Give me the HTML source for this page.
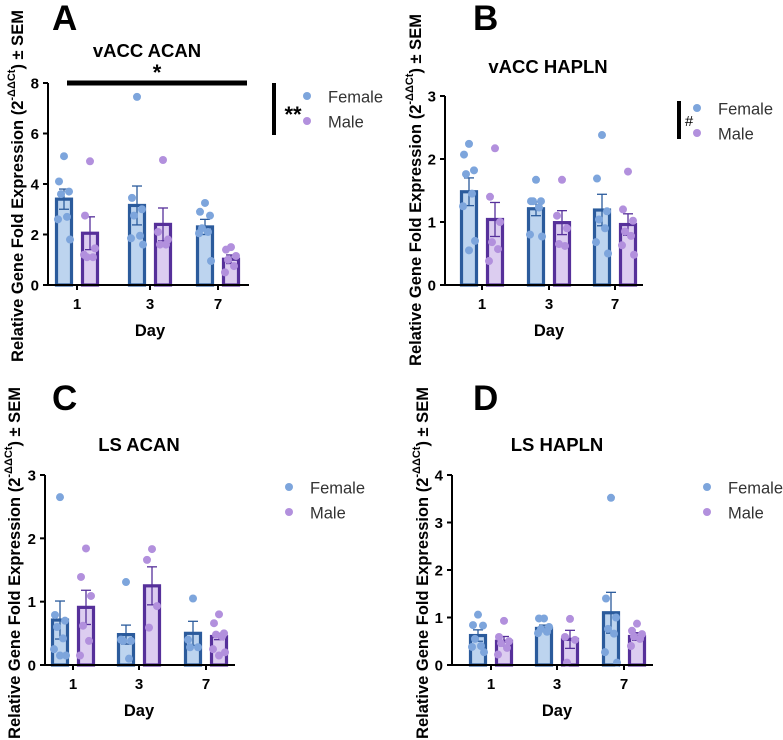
<!DOCTYPE html>
<html><head><meta charset="utf-8"><style>
body{margin:0;background:#fff;}
svg{display:block;font-family:"Liberation Sans",Arial,sans-serif;}
</style></head><body>
<svg id="fig" width="783" height="740" viewBox="0 0 783 740"></svg>
<script>
const days = ["1","3","7"];
// Panel A values
const aFemMean=[3.4,3.15,2.3], aFemSem=[0.4,0.77,0.3];
const aMalMean=[2.05,2.4,1.02], aMalSem=[0.65,0.65,0.17];
const aFemPts=[[5.1,4.1,3.7,3.6,2.7,2.6,1.8],[7.45,3.45,3.0,2.75,1.95,1.85,1.6],[3.25,2.9,2.75,2.25,2.1,2.05,0.95]];
const aMalPts=[[4.9,2.75,1.45,1.1,1.1,1.2],[4.95,2.1,1.8,1.6,1.6],[1.5,1.4,1.15,1.0,0.75,0.5]];
const aTicks=[0,2,4,6,8];
// Panel B values
const bFemMean=[1.48,1.21,1.19], bFemSem=[0.22,0.11,0.25];
const bMalMean=[1.04,0.99,0.96], bMalSem=[0.27,0.19,0.17];
const bFemPts=[[2.24,2.07,1.82,1.76,1.45,1.25,0.7,0.55],[1.67,1.33,1.33,1.33,1.23,0.8,0.77],[2.38,1.69,1.17,1.04,0.9,0.68,0.5]];
const bMalPts=[[2.17,1.4,1.0,0.68,0.57,0.38],[1.67,1.1,0.9,0.65,0.62],[1.8,1.2,1.02,0.85,0.78,0.63,0.48]];
const bTicks=[0,1,2,3];
// Panel C values
const cFemMean=[0.71,0.48,0.5], cFemSem=[0.3,0.15,0.19];
const cMalMean=[0.91,1.25,0.45], cMalSem=[0.27,0.3,0.05];
const cFemPts=[[2.65,0.79,0.7,0.6,0.42,0.25,0.15,0.15],[1.31,0.4,0.38,0.38,0.1],[1.05,0.4,0.28,0.28]];
const cMalPts=[[1.84,1.39,1.09,0.62,0.38,0.15],[1.83,1.66,0.93,0.59],[0.8,0.66,0.5,0.48,0.45,0.25,0.2,0.15]];
const cTicks=[0,1,2,3];
// Panel D values
const dFemMean=[0.62,0.77,1.1], dFemSem=[0.12,0.07,0.43];
const dMalMean=[0.5,0.54,0.6], dMalSem=[0.1,0.19,0.08];
const dFemPts=[[1.06,0.84,0.83,0.55,0.4,0.38,0.27],[0.98,0.98,0.8,0.76,0.7,0.67],[3.52,1.4,1.0,0.76,0.66,0.27,0.05]];
const dMalPts=[[0.93,0.59,0.5,0.46,0.36,0.22],[0.97,0.59,0.53,0.05],[0.87,0.72,0.65,0.6,0.55,0.4]];
const dTicks=[0,1,2,3,4];

const NS="http://www.w3.org/2000/svg";
const svg=document.getElementById('fig');
function el(tag,attrs,parent,text){const e=document.createElementNS(NS,tag);for(const k in attrs)e.setAttribute(k,attrs[k]);if(text!==undefined)e.textContent=text;(parent||svg).appendChild(e);return e;}
const FC={fill:"#bdd4ef",stroke:"#2b5b9c",dot:"#7da5dc"};
const MC={fill:"#dccdf0",stroke:"#56309a",dot:"#b290dd"};
const jit=[0,-5,5,-3,3,-6,6,0];

function panel(p){
  const g=el('g',{});
  
  
  const y=v=>p.y0-(v/p.max)*(p.y0-p.yTop);
  const x=i=>p.tx[i];
  const t=el('text',{x:p.letterX,y:p.letterY,'font-size':35,'font-weight':'bold'},g,p.id);
  
  const ti=el('text',{x:p.titleX,y:p.titleY,'font-size':18.5,'font-weight':'bold','text-anchor':'middle'},g,p.title);
  
  const yl=el('text',{transform:`translate(${p.ylx},${p.ylc}) rotate(-90)`,'font-size':16.5,'font-weight':'bold','text-anchor':'middle'},g);
  
  el('tspan',{},yl,'Relative Gene Fold Expression (2');
  el('tspan',{dy:-8,'font-size':11},yl,'-ΔΔCt');
  el('tspan',{dy:8},yl,') ± SEM');
  const groups=[[p.fm,p.fs,p.fp,FC,-13,'female'],[p.mm,p.ms,p.mp,MC,13,'male']];
  days.forEach((d,i)=>{
    groups.forEach(([mean,sem,pts,c,off,nm])=>{
      const cx=x(i)+off;
      const r=el('rect',{x:cx-7.5,y:y(mean[i]),width:15,height:p.y0-y(mean[i]),fill:c.fill,stroke:c.stroke,'stroke-width':3.2},g);
      
      el('line',{x1:cx,x2:cx,y1:y(mean[i]-sem[i]),y2:y(mean[i]+sem[i]),stroke:c.stroke,'stroke-width':1.3},g);
      el('line',{x1:cx-5,x2:cx+5,y1:y(mean[i]+sem[i]),y2:y(mean[i]+sem[i]),stroke:c.stroke,'stroke-width':1.3},g);
      el('line',{x1:cx-5,x2:cx+5,y1:y(mean[i]-sem[i]),y2:y(mean[i]-sem[i]),stroke:c.stroke,'stroke-width':1.3},g);
      pts[i].forEach((v,k)=>{
        const dt=el('circle',{cx:cx+jit[k%jit.length],cy:y(v),r:4,fill:c.dot},g);
        
      });
    });
  });
  el('line',{x1:p.ax,x2:p.ax,y1:p.yTop,y2:p.y0+1,stroke:'#000','stroke-width':2},g);
  el('line',{x1:p.ax-1,x2:p.axEnd,y1:p.y0,y2:p.y0,stroke:'#000','stroke-width':2},g);
  p.ticks.forEach(v=>{
    el('line',{x1:p.ax-5,x2:p.ax,y1:y(v),y2:y(v),stroke:'#000','stroke-width':2},g);
    const tl=el('text',{x:p.ax-9,y:y(v)+5.5,'font-size':15,'font-weight':'bold','text-anchor':'end'},g,String(v));
    
  });
  days.forEach((d,i)=>{
    el('line',{x1:x(i),x2:x(i),y1:p.y0,y2:p.y0+5,stroke:'#000','stroke-width':2},g);
    const tl=el('text',{x:x(i),y:p.y0+24,'font-size':15,'font-weight':'bold','text-anchor':'middle'},g,d);
    
  });
  const xl=el('text',{x:x(1),y:p.y0+51,'font-size':16.5,'font-weight':'bold','text-anchor':'middle'},g,'Day');
  
  const lg=el('g',{},g);
  
  el('circle',{cx:p.lx,cy:p.ly,r:4,fill:FC.dot},lg);
  el('text',{x:p.lx+21,y:p.ly+6.5,'font-size':16.5,fill:'#333'},lg,'Female');
  el('circle',{cx:p.lx,cy:p.ly+25,r:4,fill:MC.dot},lg);
  el('text',{x:p.lx+21,y:p.ly+31.5,'font-size':16.5,fill:'#333'},lg,'Male');
  return g;
}
panel({id:'A',title:'vACC ACAN',letterX:52,letterY:30,titleX:147,titleY:57,ylx:23,ylc:186,ax:48,axEnd:249,yTop:83,y0:285,max:8,ticks:aTicks,tx:[77,150,218],fm:aFemMean,fs:aFemSem,fp:aFemPts,mm:aMalMean,ms:aMalSem,mp:aMalPts,lx:307,ly:96});
panel({id:'B',title:'vACC HAPLN',letterX:473,letterY:30,titleX:548,titleY:73,ylx:421,ylc:190,ax:445,axEnd:643,yTop:96,y0:285,max:3,ticks:bTicks,tx:[482,549,615],fm:bFemMean,fs:bFemSem,fp:bFemPts,mm:bMalMean,ms:bMalSem,mp:bMalPts,lx:697,ly:108});
panel({id:'C',title:'LS ACAN',letterX:52,letterY:410,titleX:139,titleY:451,ylx:20,ylc:563,ax:45,axEnd:235,yTop:475,y0:665,max:3,ticks:cTicks,tx:[73,139,206],fm:cFemMean,fs:cFemSem,fp:cFemPts,mm:cMalMean,ms:cMalSem,mp:cMalPts,lx:289,ly:487});
panel({id:'D',title:'LS HAPLN',letterX:473,letterY:410,titleX:557,titleY:451,ylx:428,ylc:563,ax:452,axEnd:653,yTop:475,y0:665,max:4,ticks:dTicks,tx:[491,557,624],fm:dFemMean,fs:dFemSem,fp:dFemPts,mm:dMalMean,ms:dMalSem,mp:dMalPts,lx:707,ly:487});
const s1=el('line',{x1:67,x2:247,y1:83,y2:83,stroke:'#000','stroke-width':5});

const s2=el('text',{x:157,y:80,'font-size':22,'font-weight':'bold','text-anchor':'middle'},svg,'*');

const s3=el('line',{x1:274,x2:274,y1:83,y2:135,stroke:'#000','stroke-width':4});

const s4=el('text',{x:293,y:122,'font-size':22,'font-weight':'bold','text-anchor':'middle'},svg,'**');

const s5=el('line',{x1:679,x2:679,y1:101,y2:139,stroke:'#000','stroke-width':4});

const s6=el('text',{x:689,y:126,'font-size':15,'text-anchor':'middle'},svg,'#');

</script>
</body></html>
